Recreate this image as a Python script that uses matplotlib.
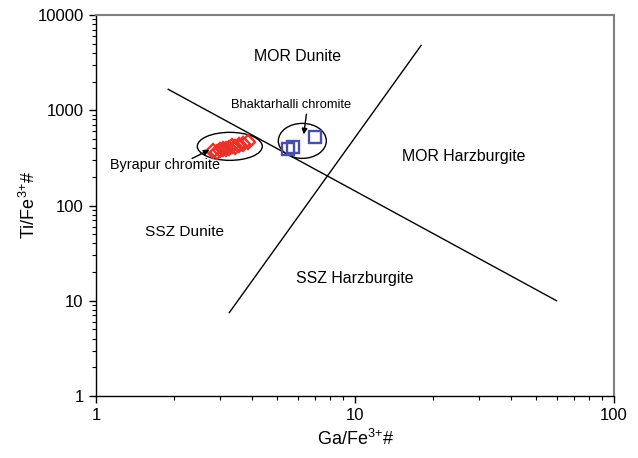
import numpy as np
import matplotlib
matplotlib.use("Agg")
import matplotlib.pyplot as plt
from matplotlib.patches import Ellipse
from matplotlib.transforms import ScaledTranslation

plt.rcParams['font.family'] = ['Liberation Sans', 'DejaVu Sans']
plt.rcParams['mathtext.fontset'] = 'custom'
plt.rcParams['mathtext.rm'] = 'Liberation Sans'

# Byrapur chromite (red diamonds)
byr_ga = [2.83, 2.92, 3.02, 3.1, 3.18, 3.27, 3.35, 3.45, 3.55, 3.68, 3.87]
byr_ti = [372, 368, 385, 392, 388, 405, 420, 415, 432, 445, 468]

# Bhaktarhalli chromite (blue squares)
bha_ga = [5.53, 5.78, 7.0]
bha_ti = [393, 413, 526]

# field boundaries (end points)
line1_x = [1.9, 60.0]
line1_y = [1660, 10]
line2_x = [3.27, 18.0]
line2_y = [7.5, 4800]

xticks = [1, 10, 100]
yticks = [1, 10, 100, 1000, 10000]

fig = plt.figure(figsize=(6.38, 4.58), dpi=100)
ax = fig.add_axes([0.1505, 0.1354, 0.8119, 0.8318])
ax.set_xscale('log')
ax.set_yscale('log')
ax.set_xlim(1, 100)
ax.set_ylim(1, 10000)

ax.plot(line1_x, line1_y, color='black', lw=1)
ax.plot(line2_x, line2_y, color='black', lw=1)

ax.plot(byr_ga, byr_ti, linestyle='none', marker='D', markersize=7.5,
        markerfacecolor='none', markeredgecolor='#e8322a', markeredgewidth=1.7)
ax.plot(bha_ga, bha_ti, linestyle='none', marker='s', markersize=8.5,
        markerfacecolor='none', markeredgecolor='#4650ac', markeredgewidth=1.7)

# ellipses round each group, sized in inches
def ring(x, y, w, h):
    tr = fig.dpi_scale_trans + ScaledTranslation(x, y, ax.transData)
    e = Ellipse((0, 0), w, h, transform=tr, fill=False, edgecolor='black', lw=1)
    ax.add_artist(e)

ring(3.285, 418, 0.65, 0.28)
ring(6.26, 477, 0.48, 0.35)

# field names
ax.text(6.0, 3700, 'MOR Dunite', ha='center', va='center', fontsize=11.4)
ax.text(26.3, 328, 'MOR Harzburgite', ha='center', va='center', fontsize=11.4)
ax.text(2.19, 53, 'SSZ Dunite', ha='center', va='center', fontsize=11.1)
ax.text(9.96, 17, 'SSZ Harzburgite', ha='center', va='center', fontsize=11.4)

# group labels with pointers
ax.text(5.68, 1130, 'Bhaktarhalli chromite', ha='center', va='center', fontsize=9.3)
ax.text(1.85, 264, 'Byrapur chromite', ha='center', va='center', fontsize=10.4)
arrow = dict(arrowstyle='-|>', color='black', lw=1, shrinkA=0, shrinkB=0,
             mutation_scale=8)
ax.annotate('', xy=(6.34, 559), xytext=(6.49, 908), arrowprops=arrow)
ax.annotate('', xy=(2.74, 384), xytext=(2.35, 312), arrowprops=arrow)

ax.set_xticks(xticks)
ax.set_xticklabels([str(v) for v in xticks], fontsize=12)
ax.set_yticks(yticks)
ax.set_yticklabels([str(v) for v in yticks], fontsize=12)
ax.tick_params(which='major', direction='out', length=5, width=1, pad=4)
ax.tick_params(which='minor', direction='out', length=3, width=0.8)

for side in ['top', 'right']:
    ax.spines[side].set_color('#808080')
    ax.spines[side].set_linewidth(1.5)
for side in ['left', 'bottom']:
    ax.spines[side].set_linewidth(1)

ax.set_xlabel('Ga/Fe$^{3{+}}$#', fontsize=13, labelpad=4)
ax.set_ylabel('Ti/Fe$^{3{+}}$#', fontsize=13, labelpad=-1)

fig.savefig('out.png', dpi=100)
